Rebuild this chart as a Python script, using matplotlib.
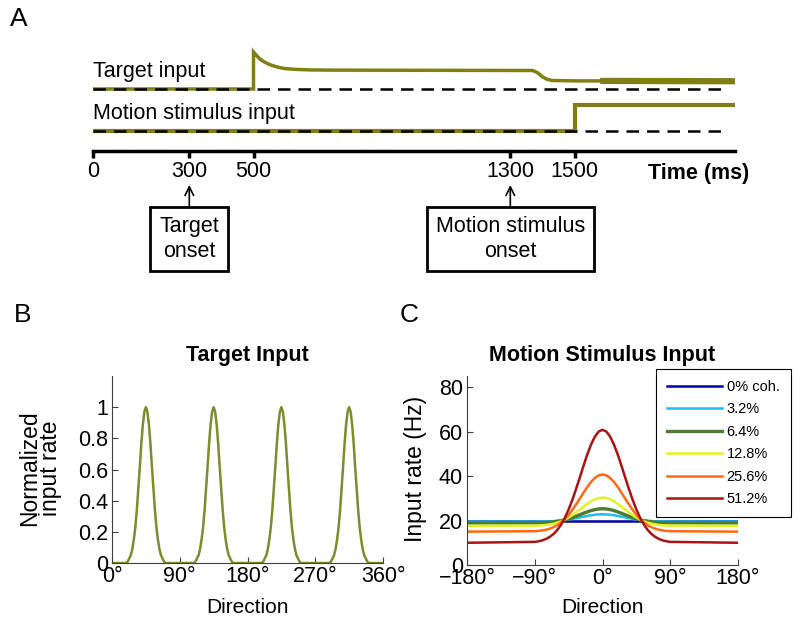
import matplotlib
matplotlib.use('Agg')
import numpy as np
import matplotlib.pyplot as plt

plt.rcParams['font.family'] = ['Liberation Sans', 'DejaVu Sans']

# ---- panel A: input time courses (arbitrary units) ----
target_t = [0, 500, 500, 510, 520, 530, 545, 560, 580, 600, 630, 680, 750,
            1370, 1385, 1400, 1415, 1430, 1500, 2000]
target_v = [0, 0, 1.0, 0.90, 0.81, 0.75, 0.68, 0.63, 0.58, 0.55, 0.53, 0.515, 0.51,
            0.50, 0.44, 0.33, 0.26, 0.23, 0.22, 0.21]
motion_t = [0, 1500, 1500, 2000]
motion_v = [0, 0, 0.70, 0.70]
time_ticks = [0, 300, 500, 1300, 1500]
target_onset = 300
motion_onset = 1300

# ---- panel B: target input tuning (half profile, 2 deg steps) ----
target_centers = [45, 135, 225, 315]
target_half = [1.0, 0.97, 0.89, 0.77, 0.62, 0.48, 0.34, 0.23, 0.15, 0.09, 0.05, 0.03, 0.01, 0.0]
target_step = 2

# ---- panel C: motion stimulus input (half profile, 5 deg steps) ----
coh_labels = ['0% coh.', '3.2%', '6.4%', '12.8%', '25.6%', '51.2%']
coh_peak = [20.0, 22.8, 25.3, 30.3, 40.7, 60.8]
coh_base = [20.0, 19.5, 18.9, 17.6, 15.0, 10.0]
coh_colors = ['#0000a8', '#1cbcf0', '#4c7c2c', '#e2f224', '#ff6a14', '#a81414']
motion_half = [1.0, 0.985, 0.941, 0.873, 0.786, 0.686, 0.581, 0.478, 0.381, 0.295,
               0.221, 0.161, 0.114, 0.078, 0.052, 0.034, 0.021, 0.013, 0.008]
motion_step = 5

olive = '#7f7f14'
W, H = 800, 620
fs_a = 15.5
fig = plt.figure(figsize=(8, 6.2), dpi=100)

# ================= Panel A =================
px = 37.0  # pixels per unit
axA = fig.add_axes([93 / W, 1 - 160 / H, 642 / W, 120 / H])
axA.set_xlim(0, 2000)
axA.set_ylim(-(160 - 89) / px, (89 - 40) / px)
off_t = 0.0
off_m = -(131 - 89) / px

tv = np.array(target_v) + off_t
mv = np.array(motion_v) + off_m
axA.plot(target_t, tv, color=olive, lw=2.5, clip_on=False,
         solid_joinstyle='miter', solid_capstyle='butt')
tt = np.array(target_t)
axA.plot([1580, tt[-1]], [np.interp(1580, tt, tv), tv[-1]],
         color=olive, lw=4.5, clip_on=False, solid_capstyle='butt')
axA.plot(motion_t, mv, color=olive, lw=3, clip_on=False,
         solid_joinstyle='miter', solid_capstyle='butt')
for off in (off_t, off_m):
    axA.plot([0, 1955], [off, off], color='black', lw=1.8, dashes=(5, 3.2))

axA.text(0, (89 - 72) / px, 'Target input', fontsize=fs_a, va='center', ha='left')
axA.text(0, -(114 - 89) / px, 'Motion stimulus input', fontsize=fs_a,
         va='center', ha='left')

for s in ('left', 'top', 'right'):
    axA.spines[s].set_visible(False)
axA.spines['bottom'].set_position(('data', -(151 - 89) / px))
axA.spines['bottom'].set_linewidth(2.5)
axA.set_yticks([])
axA.set_xticks(time_ticks)
axA.set_xticklabels([str(t) for t in time_ticks])
axA.tick_params(axis='x', direction='out', length=5, width=2.5, labelsize=fs_a, pad=2)
axA.patch.set_visible(False)

fig.text(699 / W, 1 - 173 / H, 'Time (ms)', fontsize=fs_a, fontweight='bold',
         ha='center', va='center')

for t, lab in ((target_onset, 'Target\nonset'), (motion_onset, 'Motion stimulus\nonset')):
    axA.annotate(lab, xy=(t, H - 185), xycoords=('data', 'figure pixels'),
                 xytext=(t, H - 239), textcoords=('data', 'figure pixels'),
                 ha='center', va='center', fontsize=fs_a, linespacing=1.2,
                 bbox=dict(boxstyle='square,pad=0.42', fc='white', ec='black', lw=2),
                 arrowprops=dict(arrowstyle='->', color='black', lw=1.2,
                                 shrinkA=0, shrinkB=0))

# ================= Panel B =================
axB = fig.add_axes([112 / W, 1 - 563 / H, 271 / W, 187 / H])
half = np.array(target_half)
offs = np.arange(len(half)) * target_step
bx, by = [0.0], [0.0]
for c in target_centers:
    bx += list(c - offs[::-1]) + list(c + offs[1:])
    by += list(half[::-1]) + list(half[1:])
bx.append(360.0)
by.append(0.0)
axB.plot(bx, by, color='#7d8c2c', lw=1.8)
axB.set_xlim(0, 360)
axB.set_ylim(0, 1.2)
axB.set_xticks([0, 90, 180, 270, 360])
axB.set_xticklabels(['0°', '90°', '180°', '270°', '360°'])
axB.set_yticks([0, 0.2, 0.4, 0.6, 0.8, 1])
axB.set_yticklabels(['0', '0.2', '0.4', '0.6', '0.8', '1'])
axB.set_title('Target Input', fontsize=15.5, fontweight='bold', pad=11)
axB.set_ylabel('Normalized\ninput rate', fontsize=16.5, linespacing=0.85)
axB.yaxis.set_label_coords(-0.185, 0.505)
axB.set_xlabel('Direction', fontsize=15)
axB.xaxis.set_label_coords(0.5, -0.185)

# ================= Panel C =================
axC = fig.add_axes([467 / W, 1 - 565 / H, 271 / W, 189 / H])
mh = np.array(motion_half)
moffs = np.arange(len(mh)) * motion_step
cx = np.r_[-180, -moffs[::-1], moffs[1:], 180]
prof = np.r_[0, mh[::-1], mh[1:], 0]
lw_c = [1.8, 1.8, 2.4, 1.8, 1.8, 1.8]
for lab, pk, bs, col, lw in zip(coh_labels, coh_peak, coh_base, coh_colors, lw_c):
    axC.plot(cx, bs + (pk - bs) * prof, color=col, lw=lw, label=lab)
axC.set_xlim(-180, 180)
axC.set_ylim(0, 85)
axC.set_xticks([-180, -90, 0, 90, 180])
axC.set_xticklabels(['\u2212180°', '\u221290°', '0°', '90°', '180°'])
axC.set_yticks([0, 20, 40, 60, 80])
axC.set_title('Motion Stimulus Input', fontsize=15.5, fontweight='bold', pad=11)
axC.set_ylabel('Input rate (Hz)', fontsize=16.5)
axC.yaxis.set_label_coords(-0.148, 0.51)
axC.set_xlabel('Direction', fontsize=15)
axC.xaxis.set_label_coords(0.5, -0.175)
leg = axC.legend(loc='upper left', bbox_to_anchor=(656 / W, 1 - 369 / H),
                 bbox_transform=fig.transFigure, fontsize=10.5, handlelength=3.8,
                 handletextpad=0.3, labelspacing=0.58, borderpad=0.75,
                 borderaxespad=0, fancybox=False, framealpha=1, edgecolor='black')
leg.get_frame().set_linewidth(0.8)

for ax in (axB, axC):
    ax.spines['top'].set_visible(False)
    ax.spines['right'].set_visible(False)
    for s in ('left', 'bottom'):
        ax.spines[s].set_color('#404040')
        ax.spines[s].set_linewidth(0.8)
    ax.tick_params(direction='in', length=4, width=0.8, color='#404040',
                   labelsize=15.5)
    ax.tick_params(axis='x', pad=2)
    ax.tick_params(axis='y', pad=3)

# panel letters
fig.text(10 / W, 1 - 7 / H, 'A', fontsize=19, va='top', ha='left')
fig.text(14 / W, 1 - 303 / H, 'B', fontsize=19, va='top', ha='left')
fig.text(400 / W, 1 - 303 / H, 'C', fontsize=19, va='top', ha='left')

fig.savefig('out.png', dpi=100)
